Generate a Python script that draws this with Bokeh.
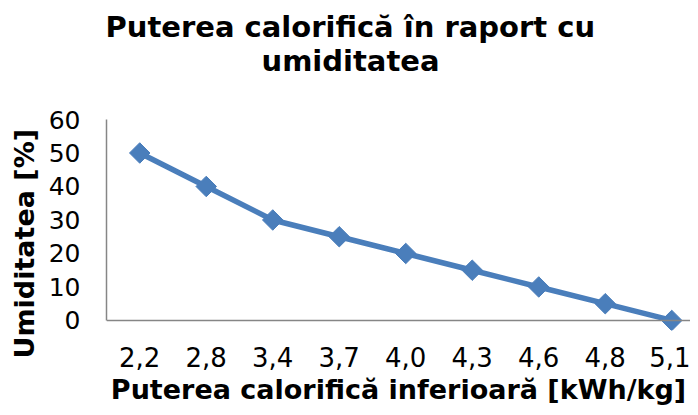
from bokeh.plotting import figure
from bokeh.layouts import column
from bokeh.models import ColumnDataSource, Range1d, FixedTicker, Title, Span
from bokeh.embed import file_html
from bokeh.resources import INLINE
import math

# --- data ---
categories = ["2,2", "2,8", "3,4", "3,7", "4,0", "4,3", "4,6", "4,8", "5,1"]
humidity = [50, 40, 30, 25, 20, 15, 10, 5, 0]
y_ticks = [0, 10, 20, 30, 40, 50, 60]

title_lines = ["Puterea calorifică în raport cu", "umiditatea"]
x_title = "Puterea calorifică inferioară [kWh/kg]"
y_title = "Umiditatea [%]"

FONT = "DejaVu Sans"
BLUE = "#4A7EBB"
GREY = "#868686"

W = 690
TITLE_H = 80
MAIN_H = 407 - TITLE_H

# ---- title strip (titles stacked above a tiny empty frame) ----
t = figure(width=W, height=TITLE_H, output_backend="svg", toolbar_location=None,
           x_range=Range1d(0, 1), y_range=Range1d(0, 1),
           x_axis_type=None, y_axis_type=None,
           min_border_left=106, min_border_right=0, min_border_top=77, min_border_bottom=0)
t.outline_line_color = None
t.xgrid.visible = False
t.ygrid.visible = False
t.title.text = title_lines[0]
t.title.align = "left"
t.title.offset = -1
t.title.standoff = -5
t.title.text_font = FONT
t.title.text_font_size = "29px"
t.title.text_font_style = "bold"
t.title.text_color = "black"
t.add_layout(Title(text=title_lines[1], align="left", offset=155, standoff=0, text_font=FONT,
                   text_font_size="29px", text_font_style="bold", text_color="black"), "above")

# ---- main chart ----
idx = list(range(len(categories)))
src = ColumnDataSource(dict(x=idx, y=humidity))

p = figure(width=W, height=MAIN_H, output_backend="svg", toolbar_location=None,
           x_range=Range1d(-0.5, 8.282), y_range=Range1d(-3, 60),
           min_border_left=106, min_border_right=0, min_border_top=119 - TITLE_H,
           min_border_bottom=73)
p.outline_line_color = None
p.xgrid.visible = False
p.ygrid.visible = False
p.title.visible = False

# y axis title on the left
p.add_layout(Title(text=y_title, align="left", offset=-28, standoff=12, text_font=FONT,
                   text_font_size="27px", text_font_style="bold", text_color="black"), "left")

# x axis line at y = 0
p.add_layout(Span(location=0, dimension="width", line_color=GREY, line_width=1.5))

p.line("x", "y", source=src, line_color=BLUE, line_width=5.5)
p.scatter("x", "y", source=src, marker="square", size=14.5, angle=math.pi / 4,
          fill_color=BLUE, line_color=BLUE)

# x axis
xa = p.xaxis[0]
xa.ticker = FixedTicker(ticks=idx)
xa.major_label_overrides = {i: c for i, c in enumerate(categories)}
xa.axis_line_color = None
xa.major_tick_line_color = None
xa.minor_tick_line_color = None
xa.major_tick_out = 0
xa.major_tick_in = 0
xa.major_label_text_font = FONT
xa.major_label_text_font_size = "26px"
xa.major_label_text_color = "black"
xa.major_label_standoff = 16
xa.axis_label = x_title
xa.axis_label_text_font = FONT
xa.axis_label_text_font_size = "27px"
xa.axis_label_text_font_style = "bold"
xa.axis_label_text_color = "black"
xa.axis_label_standoff = 4

# y axis
ya = p.yaxis[0]
ya.ticker = FixedTicker(ticks=y_ticks)
ya.bounds = (0, 60)
ya.axis_line_color = GREY
ya.axis_line_width = 1.5
ya.major_tick_line_color = None
ya.minor_tick_line_color = None
ya.major_tick_out = 0
ya.major_tick_in = 0
ya.major_label_text_font = FONT
ya.major_label_text_font_size = "25px"
ya.major_label_text_color = "black"
ya.major_label_standoff = 26

layout = column(t, p, spacing=0)
open("out.html", "w").write(file_html(layout, INLINE))
